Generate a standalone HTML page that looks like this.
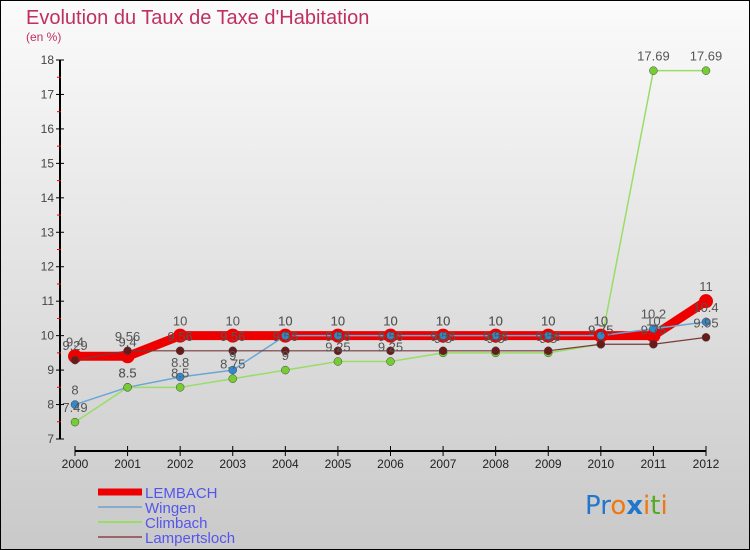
<!DOCTYPE html>
<html><head><meta charset="utf-8"><style>
body{margin:0}
svg{display:block;font-family:"Liberation Sans","DejaVu Sans",sans-serif}
</style></head><body>
<svg id="c" width="750" height="550" viewBox="0 0 750 550">
<defs><linearGradient id="bg" x1="0" y1="0" x2="0" y2="1"><stop offset="0" stop-color="#fbfbfb"/><stop offset="1" stop-color="#c9c9c9"/></linearGradient></defs>
<rect x="0.5" y="0.5" width="749" height="549" fill="url(#bg)" stroke="#000"/>
<text x="26" y="24" font-size="20" fill="#c0305f">Evolution du Taux de Taxe d'Habitation</text>
<text x="26" y="41" font-size="12" fill="#c0305f">(en %)</text>
<g id="axes"></g>
<g id="series"></g>
<g id="labels"></g>
<g id="legend"></g>
<g font-size="26" font-family="'DejaVu Sans',sans-serif">
<text x="585" y="514"><tspan fill="#2277cc">Pr</tspan><tspan fill="#ee7711">o</tspan><tspan fill="#2277cc" font-weight="bold">x</tspan><tspan fill="#ee7711">i</tspan><tspan fill="#55aa22">t</tspan><tspan fill="#ee7711">i</tspan></text>
</g>
</svg>
<script>
const years=[2000,2001,2002,2003,2004,2005,2006,2007,2008,2009,2010,2011,2012];
const lembach=[9.4,9.4,10,10,10,10,10,10,10,10,10,10,11];
const wingen=[8,8.5,8.8,9,10,10,10,10,10,10,10,10.2,10.4];
const climbach=[7.49,8.5,8.5,8.75,9,9.25,9.25,9.5,9.5,9.5,9.75,17.69,17.69];
const lampertsloch=[9.29,9.56,9.56,9.56,9.56,9.56,9.56,9.56,9.56,9.56,9.75,9.75,9.95];
const yTicks=[7,8,9,10,11,12,13,14,15,16,17,18];
const NS="http://www.w3.org/2000/svg";
const x=i=>75+i*(706-75)/(years.length-1);
const y=v=>439-(v-7)*(439-60)/11;
function mk(t,a,p){const e=document.createElementNS(NS,t);for(const k in a)e.setAttribute(k,a[k]);p.appendChild(e);return e;}
const axes=document.getElementById('axes');
const yl=mk('line',{x1:60,y1:60,x2:60,y2:439,stroke:'#000','stroke-width':2},axes);


const xl=mk('line',{x1:75,y1:451,x2:706,y2:451,stroke:'#000','stroke-width':2},axes);


yTicks.forEach(v=>{
 mk('line',{x1:56,y1:y(v),x2:64,y2:y(v),stroke:'#000'},axes);
 if(v<18)mk('line',{x1:57,y1:y(v+0.5),x2:61,y2:y(v+0.5),stroke:'#e00'},axes);
 const t=mk('text',{x:54,y:y(v)+4,'font-size':12,fill:'#444','text-anchor':'end'},axes);
 t.textContent=v;
 
 
});
years.forEach((yr,i)=>{
 mk('line',{x1:x(i),y1:446,x2:x(i),y2:456,stroke:'#000'},axes);
 const t=mk('text',{x:x(i),y:468,'font-size':12,fill:'#222','text-anchor':'middle'},axes);
 t.textContent=yr;
 
 
});
const S=[
 {n:'lampertsloch',d:lampertsloch,c:'#7a3a3a',w:1.2,r:4,f:'#6a1a1a'},
 {n:'climbach',d:climbach,c:'#99dd66',w:1.5,r:4,f:'#77cc33'},
 {n:'wingen',d:wingen,c:'#6aa6d6',w:1.5,r:4,f:'#3388cc'},
 {n:'lembach',d:lembach,c:'#ee0000',w:9,r:7,f:'#ee0000'}];
const sg=document.getElementById('series'),lg=document.getElementById('labels');
const order=[3,2,1,0];
order.forEach(k=>{const s=S[k];
 const p=mk('polyline',{points:s.d.map((v,i)=>x(i)+','+y(v)).join(' '),fill:'none',stroke:s.c,'stroke-width':s.w,'stroke-linejoin':'round'},sg);
 
 
});
order.forEach(k=>{const s=S[k];
 s.d.forEach((v,i)=>{
  const c=mk('circle',{cx:x(i),cy:y(v),r:s.r,fill:s.f,stroke:k==3?'none':'#444','stroke-width':0.5},sg);
  
  
  const t=mk('text',{x:x(i),y:y(v)-10,'font-size':13,fill:'#555','text-anchor':'middle'},lg);
  t.textContent=v;
  
  
 });
});
const L=document.getElementById('legend');
const leg=[['LEMBACH','#ee0000',7],['Wingen','#88aacc',2],['Climbach','#99dd66',2],['Lampertsloch','#996666',2]];
leg.forEach((e,i)=>{const yy=492+i*15;
 const g=mk('g',{},L);
 
 
 mk('line',{x1:98,y1:yy,x2:142,y2:yy,stroke:e[1],'stroke-width':e[2]},g);
 const t=mk('text',{x:145,y:yy+6,'font-size':15,fill:'#5555ee'},g);
 t.textContent=e[0];
});
</script>
</body></html>
